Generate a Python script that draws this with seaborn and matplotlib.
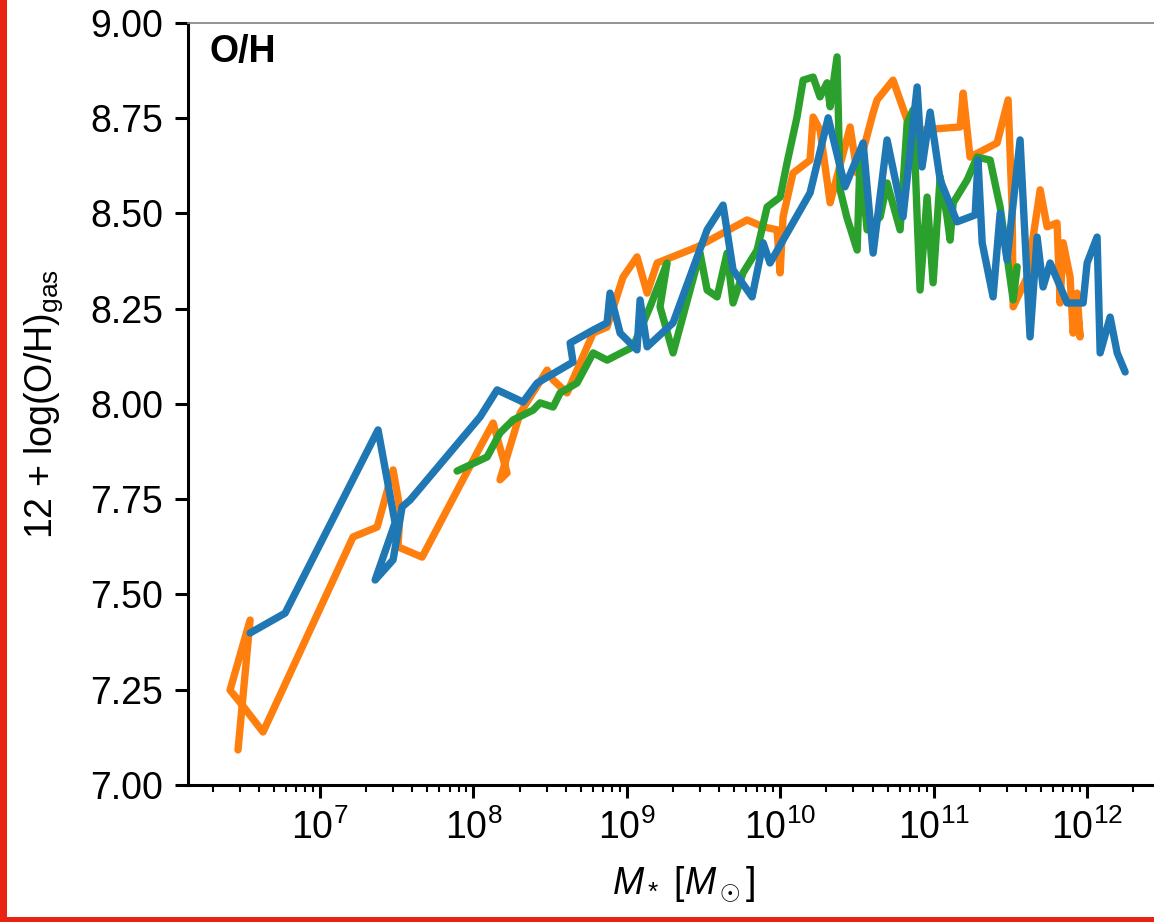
import numpy as np
import pandas as pd
import matplotlib
matplotlib.use("Agg")
import matplotlib.pyplot as plt
from matplotlib.patches import Rectangle
from matplotlib.ticker import FormatStrFormatter, LogLocator
import seaborn as sns

# Gas-phase oxygen abundance versus stellar mass for three runs
# (log10 stellar mass in solar masses, 12 + log(O/H)).
run_a_logm = [6.465, 6.544, 6.413, 6.492, 6.628, 7.215, 7.372, 7.476, 7.522, 7.508,
              7.665, 8.043, 8.128, 8.219, 8.173, 8.304, 8.480, 8.519, 8.610, 8.780,
              8.871, 8.975, 9.066, 9.132, 9.197, 9.458, 9.784, 9.888, 9.979, 9.999,
              10.018, 10.083, 10.194, 10.214, 10.259, 10.325, 10.455, 10.501, 10.605,
              10.631, 10.735, 10.827, 10.911, 11.172, 11.192, 11.237, 11.413, 11.485,
              11.511, 11.518, 11.609, 11.694, 11.739, 11.804, 11.824, 11.844, 11.889,
              11.909, 11.935, 11.954, 11.941]
run_a_oh = [7.092, 7.433, 7.249, 7.210, 7.139, 7.651, 7.677, 7.827, 7.722, 7.625,
            7.598, 7.887, 7.950, 7.819, 7.801, 7.976, 8.089, 8.063, 8.029, 8.186,
            8.202, 8.333, 8.386, 8.291, 8.370, 8.412, 8.483, 8.465, 8.457, 8.344,
            8.491, 8.606, 8.640, 8.753, 8.719, 8.528, 8.727, 8.606, 8.764,
            8.798, 8.850, 8.745, 8.719, 8.727, 8.816, 8.648, 8.685, 8.798,
            8.517, 8.255, 8.333, 8.562, 8.465, 8.475, 8.265, 8.423, 8.333,
            8.186, 8.291, 8.176, 8.226]

run_b_logm = [7.893, 8.089, 8.173, 8.258, 8.389, 8.434, 8.519, 8.565, 8.675, 8.780,
              8.871, 9.040, 9.151, 9.262, 9.216, 9.301, 9.477, 9.523, 9.588, 9.653,
              9.692, 9.757, 9.849, 9.914, 9.999, 10.044, 10.109, 10.149, 10.214,
              10.259, 10.305, 10.325, 10.370, 10.390, 10.433, 10.501, 10.520, 10.566,
              10.651, 10.696, 10.781, 10.827, 10.866, 10.892, 10.911, 10.957, 10.996,
              11.042, 11.087, 11.107, 11.127, 11.218, 11.283, 11.368, 11.413, 11.433,
              11.518, 11.544]
run_b_oh = [7.824, 7.861, 7.924, 7.958, 7.984, 8.003, 7.992, 8.029, 8.055, 8.134,
            8.115, 8.150, 8.255, 8.370, 8.255, 8.134, 8.396, 8.299, 8.281, 8.396,
            8.265, 8.344, 8.404, 8.517, 8.543, 8.633, 8.753, 8.850, 8.858,
            8.806, 8.843, 8.780, 8.911, 8.562, 8.491, 8.404, 8.648, 8.457,
            8.491, 8.580, 8.457, 8.738, 8.772, 8.491, 8.299, 8.543, 8.318,
            8.596, 8.491, 8.430, 8.528, 8.588, 8.648, 8.640, 8.554, 8.517,
            8.273, 8.360]

run_c_logm = [6.544, 6.772, 7.378, 7.489, 7.359, 7.476, 7.535, 7.587, 8.043, 8.154,
              8.323, 8.415, 8.649, 8.630, 8.780, 8.871, 8.890, 8.956, 9.066, 9.086,
              9.132, 9.301, 9.523, 9.627, 9.692, 9.816, 9.888, 9.933, 10.194, 10.312,
              10.422, 10.540, 10.605, 10.696, 10.800, 10.892, 10.924, 10.977, 11.042,
              11.152, 11.270, 11.289, 11.316, 11.387, 11.433, 11.478, 11.563, 11.628,
              11.674, 11.713, 11.759, 11.870, 11.974, 12.000, 12.065, 12.085, 12.150,
              12.196, 12.248]
run_c_oh = [7.399, 7.451, 7.932, 7.688, 7.538, 7.591, 7.730, 7.748, 7.966, 8.037,
            8.005, 8.055, 8.110, 8.160, 8.194, 8.213, 8.291, 8.186, 8.142, 8.273,
            8.150, 8.213, 8.457, 8.522, 8.352, 8.281, 8.423, 8.370, 8.554, 8.751,
            8.570, 8.685, 8.396, 8.693, 8.491, 8.832, 8.622, 8.766, 8.588,
            8.478, 8.496, 8.640, 8.423, 8.281, 8.501, 8.378, 8.693, 8.176,
            8.438, 8.307, 8.370, 8.265, 8.265, 8.370, 8.438, 8.134, 8.228,
            8.134, 8.084]

run_names = ["run A", "run B", "run C"]
run_colors = {"run A": "#ff7f0e", "run B": "#2ca02c", "run C": "#1f77b4"}

yticks = [7.00, 7.25, 7.50, 7.75, 8.00, 8.25, 8.50, 8.75, 9.00]

frames = []
for name, lm, oh in zip(run_names,
                        [run_a_logm, run_b_logm, run_c_logm],
                        [run_a_oh, run_b_oh, run_c_oh]):
    frames.append(pd.DataFrame({"mstar": 10 ** np.asarray(lm),
                                "oh": oh,
                                "run": name}))
df = pd.concat(frames, ignore_index=True)

sns.set_style("ticks")
plt.rcParams["font.family"] = ["Liberation Sans", "DejaVu Sans"]
plt.rcParams["text.color"] = "black"
plt.rcParams["axes.labelcolor"] = "black"
plt.rcParams["mathtext.fontset"] = "custom"
plt.rcParams["mathtext.rm"] = "Liberation Sans"
plt.rcParams["mathtext.it"] = "Liberation Sans:italic"
plt.rcParams["mathtext.bf"] = "Liberation Sans:bold"

fig = plt.figure(figsize=(11.54, 9.22), dpi=100)
ax = fig.add_axes([0.1625, 0.1486, 0.8593, 0.8265])

sns.lineplot(data=df, x="mstar", y="oh", hue="run", hue_order=run_names,
             palette=run_colors, units="run", estimator=None, sort=False,
             linewidth=5.3, legend=False, ax=ax)

ax.set_xscale("log")
ax.set_xlim(10 ** 6.136, 10 ** 12.6)
ax.set_ylim(7.0, 9.0)
ax.set_yticks(yticks)
ax.yaxis.set_major_formatter(FormatStrFormatter("%.2f"))
ax.xaxis.set_major_locator(LogLocator(base=10, numticks=20))
ax.xaxis.set_minor_locator(LogLocator(base=10, subs=np.arange(2, 10), numticks=20))

ax.tick_params(axis="both", which="major", direction="out", length=9.5, width=2.2,
               labelsize=27, color="black", labelcolor="black", pad=8)
ax.tick_params(axis="x", which="minor", direction="out", length=5, width=1.5,
               color="black")

for side in ["left", "bottom"]:
    ax.spines[side].set_linewidth(2.2)
    ax.spines[side].set_color("black")
for side in ["top", "right"]:
    ax.spines[side].set_linewidth(1.3)
    ax.spines[side].set_color("#8a8a8a")

ax.set_xlabel(r"$M_*$ $[M_\odot]$", fontsize=27, labelpad=13, color="black")
ax.set_ylabel(r"12 + log(O/H)$_{\rm gas}$", fontsize=27, labelpad=18, color="black")

ax.text(0.022, 0.985, "O/H", transform=ax.transAxes, fontsize=27,
        fontweight="bold", va="top", ha="left", color="black")

# red frame along the left and bottom edges of the figure
frame_red = "#e82314"
fig.add_artist(Rectangle((0, 0), 7 / 1154, 1, transform=fig.transFigure,
                         facecolor=frame_red, edgecolor="none", zorder=10))
fig.add_artist(Rectangle((0, 0), 1, 5 / 922, transform=fig.transFigure,
                         facecolor=frame_red, edgecolor="none", zorder=10))

fig.savefig("out.png", dpi=100)
